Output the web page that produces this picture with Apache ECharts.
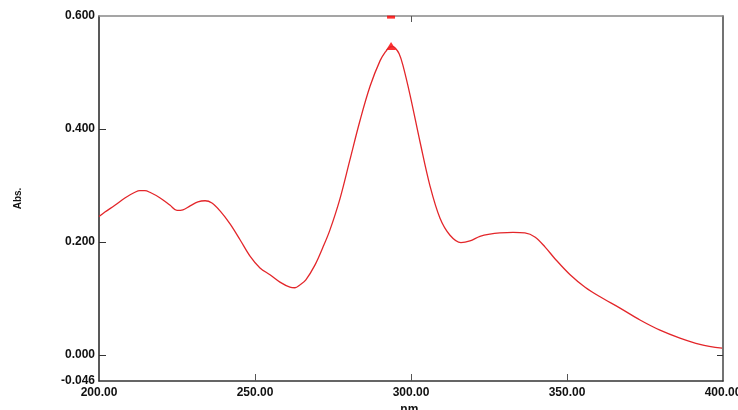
<!DOCTYPE html>
<html>
<head>
<meta charset="utf-8">
<script src="https://cdn.jsdelivr.net/npm/echarts@6/dist/echarts.min.js"></script>
<style>
  html, body { margin: 0; padding: 0; background: #fff; }
  #chart { width: 738px; height: 410px; }
</style>
</head>
<body>
<div id="chart"></div>
<script>
// wavelength (nm) and absorbance
const wavelengths = [
  200.0, 201.9, 205.1, 208.3, 211.5, 213.1, 214.7, 216.3, 219.6, 222.8,
  225.0, 226.9, 229.2, 231.7, 234.0, 236.2, 238.8, 242.0, 245.2, 248.4,
  251.6, 254.8, 258.0, 261.2, 262.8, 264.4, 266.3, 269.2, 271.8, 274.0,
  277.2, 280.4, 283.7, 286.9, 290.1, 292.0, 293.0, 294.0, 295.0, 296.2,
  297.4, 299.7, 302.9, 306.1, 309.3, 312.5, 316.0, 318.9, 322.1, 325.3,
  328.5, 332.7, 336.5, 339.7, 343.0, 346.2, 351.0, 355.8, 360.6, 367.0,
  373.4, 379.8, 386.2, 392.6, 399.7
]
const absorbance = [
  0.245, 0.253, 0.265, 0.278, 0.288, 0.291, 0.291, 0.288, 0.278, 0.265,
  0.256, 0.257, 0.264, 0.271, 0.273, 0.269, 0.255, 0.232, 0.204, 0.175,
  0.154, 0.142, 0.129, 0.120, 0.119, 0.124, 0.133, 0.159, 0.191, 0.221,
  0.276, 0.345, 0.416, 0.476, 0.521, 0.538, 0.544, 0.546, 0.543, 0.533,
  0.513, 0.460, 0.377, 0.299, 0.242, 0.212, 0.199, 0.202, 0.210, 0.214,
  0.216, 0.217, 0.216, 0.209, 0.191, 0.170, 0.142, 0.120, 0.103, 0.083,
  0.062, 0.044, 0.030, 0.019, 0.012
]
const peak = [293.6, 0.547]
const peakTop = [293.6, 0.598]

const yLabels = [-0.046, 0, 0.2, 0.4, 0.6]
const yTicks = [0, 0.2, 0.4]
const xTicks = [250, 300, 350]

const labelFont = {
  color: '#111',
  fontWeight: 'bold',
  fontSize: 12,
  fontFamily: 'Liberation Sans, Arial, sans-serif'
}

const chart = echarts.init(document.getElementById('chart'))

const points = wavelengths.map((w, i) => [w, absorbance[i]])

chart.setOption({
  animation: false,
  grid: { left: 99, right: 15, top: 16, bottom: 29, outerBoundsMode: 'none', containLabel: false },
  xAxis: [
    {
      type: 'value',
      min: 200,
      max: 400,
      interval: 50,
      position: 'bottom',
      name: 'nm.',
      nameLocation: 'middle',
      nameGap: 22,
      nameTextStyle: labelFont,
      splitLine: { show: false },
      axisLine: { onZero: false, lineStyle: { color: '#333', width: 1.5 } },
      axisTick: {
        inside: true,
        length: 7,
        customValues: xTicks,
        lineStyle: { color: '#555' }
      },
      axisLabel: {
        ...labelFont,
        margin: 6,
        formatter: v => v.toFixed(2)
      }
    },
    {
      type: 'value',
      min: 200,
      max: 400,
      position: 'top',
      splitLine: { show: false },
      axisLine: { onZero: false, lineStyle: { color: '#888', width: 1.5 } },
      axisTick: {
        inside: true,
        length: 6,
        customValues: [300],
        lineStyle: { color: '#555' }
      },
      axisLabel: { show: false }
    }
  ],
  yAxis: [
    {
      type: 'value',
      min: -0.046,
      max: 0.6,
      position: 'left',
      name: 'Abs.',
      nameLocation: 'middle',
      nameRotate: 90,
      nameGap: 76,
      nameTextStyle: { ...labelFont, fontSize: 10 },
      splitLine: { show: false },
      axisLine: { onZero: false, lineStyle: { color: '#222', width: 1.5 } },
      axisTick: {
        inside: true,
        length: 7,
        customValues: yTicks,
        lineStyle: { color: '#333' }
      },
      axisLabel: {
        ...labelFont,
        margin: 4,
        customValues: yLabels,
        formatter: v => v.toFixed(3)
      }
    },
    {
      type: 'value',
      min: -0.046,
      max: 0.6,
      position: 'right',
      splitLine: { show: false },
      axisLine: { onZero: false, lineStyle: { color: '#444', width: 1.5 } },
      axisTick: {
        inside: true,
        length: 6,
        customValues: [0],
        lineStyle: { color: '#333' }
      },
      axisLabel: { show: false }
    }
  ],
  series: [
    {
      type: 'line',
      data: points,
      smooth: 0.35,
      symbol: 'none',
      lineStyle: { color: '#e3262a', width: 1.3 }
    },
    {
      type: 'scatter',
      data: [peak],
      symbol: 'triangle',
      symbolSize: [10, 8],
      itemStyle: { color: '#f00' }
    },
    {
      type: 'scatter',
      data: [peakTop],
      symbol: 'rect',
      symbolSize: [8, 3],
      itemStyle: { color: '#f00' }
    }
  ]
})
</script>
</body>
</html>
